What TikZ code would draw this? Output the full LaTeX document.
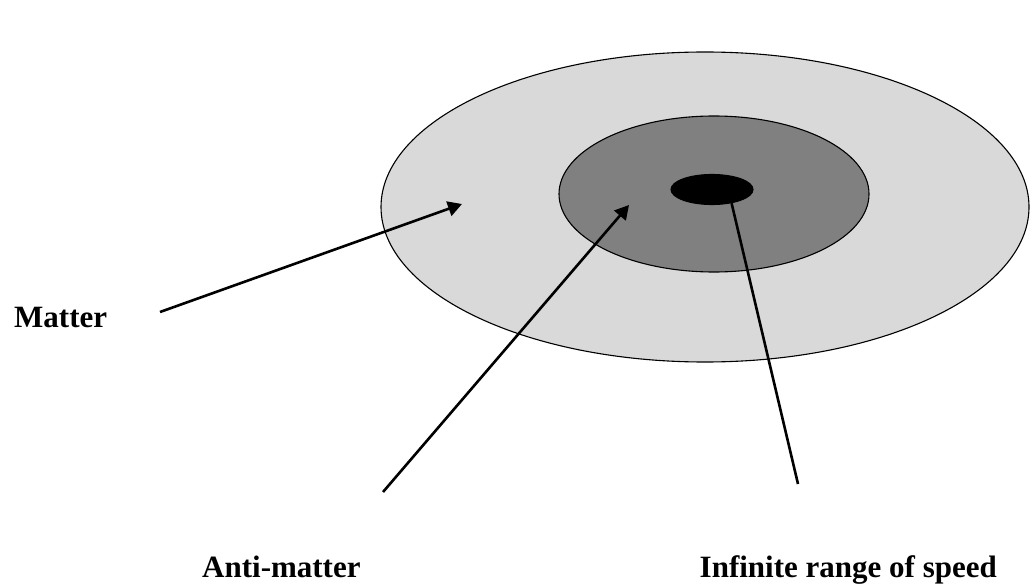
\documentclass[tikz,border=0pt]{standalone}
\usepackage{fontspec}
\setmainfont{Liberation Serif}
\usetikzlibrary{shapes.geometric, arrows.meta, positioning}

\begin{document}
\begin{tikzpicture}[
    x=1pt, y=-1pt,
    disk/.style={ellipse, draw=black, line width=1.1pt, inner sep=0pt},
    label/.style={font=\fontsize{31}{37}\selectfont\bfseries, inner sep=0pt},
    pointer/.style={-{Triangle[length=14pt, width=15pt]}, line width=2.6pt},
    plainline/.style={line width=2.6pt}
]
\useasboundingbox (0,0) rectangle (1035,585);

% Nested disks
\node[disk, fill={rgb,255:red,217;green,217;blue,217}, minimum width=648pt, minimum height=310pt] (matterdisk) at (705,207) {};
\node[disk, fill={rgb,255:red,128;green,128;blue,128}, minimum width=310pt, minimum height=156pt] (antidisk) at (714,194) {};
\node[disk, fill=black, minimum width=82pt, minimum height=30pt] (speedcore) at (712,189.5) {};

% Labels
\node[label, anchor=base west] (matterlabel) at (14,327) {Matter};
\node[label, anchor=base west] (antilabel) at (202,577) {Anti-matter};
\node[label, anchor=base east] (speedlabel) at (997,577) {Infinite range of speed};

% Pointers
\coordinate (mattertail) at (160,312);
\coordinate (matterhead) at (462,204);
\coordinate (antitail) at (383,492);
\coordinate (antihead) at (629,205);
\coordinate (speedtail) at (798,484);

\draw[pointer] (mattertail) -- (matterhead);
\draw[pointer] (antitail) -- (antihead);
\draw[plainline] (speedtail) -- (speedcore.-35);

\end{tikzpicture}
\end{document}
